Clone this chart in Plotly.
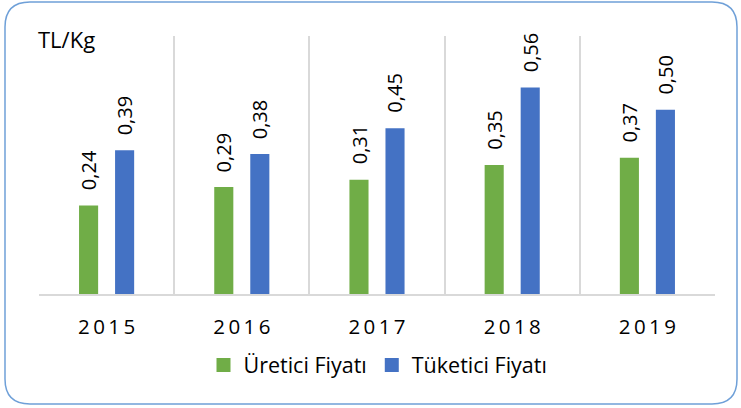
import plotly.graph_objects as go

years = ["2015", "2016", "2017", "2018", "2019"]
uretici = [0.24, 0.29, 0.31, 0.35, 0.37]
tuketici = [0.39, 0.38, 0.45, 0.56, 0.50]
series_names = ["Üretici Fiyatı", "Tüketici Fiyatı"]
colors = ["#70AD47", "#4472C4"]
unit_label = "TL/Kg"

W, H = 741, 408
L, R, T, B = 39, 26, 36, 114
pw, ph = W - L - R, H - T - B

def px2paper(x, y):
    return (x - L) / pw, (H - B - y) / ph

FONT = "Open Sans"

fig = go.Figure()
for name, vals, col in zip(series_names, [uretici, tuketici], colors):
    fig.add_trace(go.Bar(x=years, y=vals, name=name, marker_color=col,
                         marker_line_width=0, showlegend=False))
# legend entries with square swatches
for name, col in zip(series_names, colors):
    fig.add_trace(go.Scatter(x=[None], y=[None], mode="markers", name=name,
                             marker=dict(symbol="square", size=14, color=col),
                             showlegend=True))

def fmt(v):
    return f"{v:.2f}".replace(".", ",")

for vals, shift in [(uretici, -18), (tuketici, 18)]:
    for i, v in enumerate(vals):
        fig.add_annotation(x=i, y=v, text=fmt(v), textangle=-90, showarrow=False,
                           xshift=shift, yshift=13, yanchor="bottom", xanchor="center",
                           font=dict(family=FONT, size=20, color="#000000"))

ax, ay = px2paper(36, 39)
fig.add_annotation(x=ax, y=ay, xref="paper", yref="paper", text=unit_label,
                   showarrow=False, xanchor="left", yanchor="middle",
                   font=dict(family=FONT, size=22, color="#000000"))

# rounded border
x0, y0, x1, y1, r = 5, 2, 737, 404, 25
def P(x, y):
    px_, py_ = px2paper(x, y)
    return f"{px_:.5f},{py_:.5f}"
path = (f"M {P(x0 + r, y0)} L {P(x1 - r, y0)} Q {P(x1, y0)} {P(x1, y0 + r)} "
        f"L {P(x1, y1 - r)} Q {P(x1, y1)} {P(x1 - r, y1)} "
        f"L {P(x0 + r, y1)} Q {P(x0, y1)} {P(x0, y1 - r)} "
        f"L {P(x0, y0 + r)} Q {P(x0, y0)} {P(x0 + r, y0)} Z")
fig.add_shape(type="path", path=path, xref="paper", yref="paper",
              line=dict(color="#6FA0D8", width=1.5), layer="above")

lx, ly = px2paper(378, 365)
fig.update_layout(
    width=W, height=H, margin=dict(l=L, r=R, t=T, b=B),
    paper_bgcolor="white", plot_bgcolor="white",
    barmode="group", bargap=0.467, bargroupgap=0.47,
    showlegend=True,
    legend=dict(orientation="h", x=lx, y=ly, xanchor="center", yanchor="middle",
                font=dict(family=FONT, size=21.5, color="#000000"),
                itemwidth=30, traceorder="normal"),
    xaxis=dict(type="category", range=[-0.5, len(years) - 0.5],
               tickmode="array", tickvals=years,
               ticktext=["\u2009".join(y) for y in years],
               tickson="boundaries", showgrid=True, gridcolor="#D9D9D9", gridwidth=1.5,
               showline=True, linecolor="#D9D9D9", linewidth=1.5, ticks="",
               ticklabelstandoff=14,
               tickfont=dict(family=FONT, size=20.5, color="#000000")),
    yaxis=dict(range=[0, 0.7], visible=False, showgrid=False, zeroline=False),
)

fig.write_html("out.html")
